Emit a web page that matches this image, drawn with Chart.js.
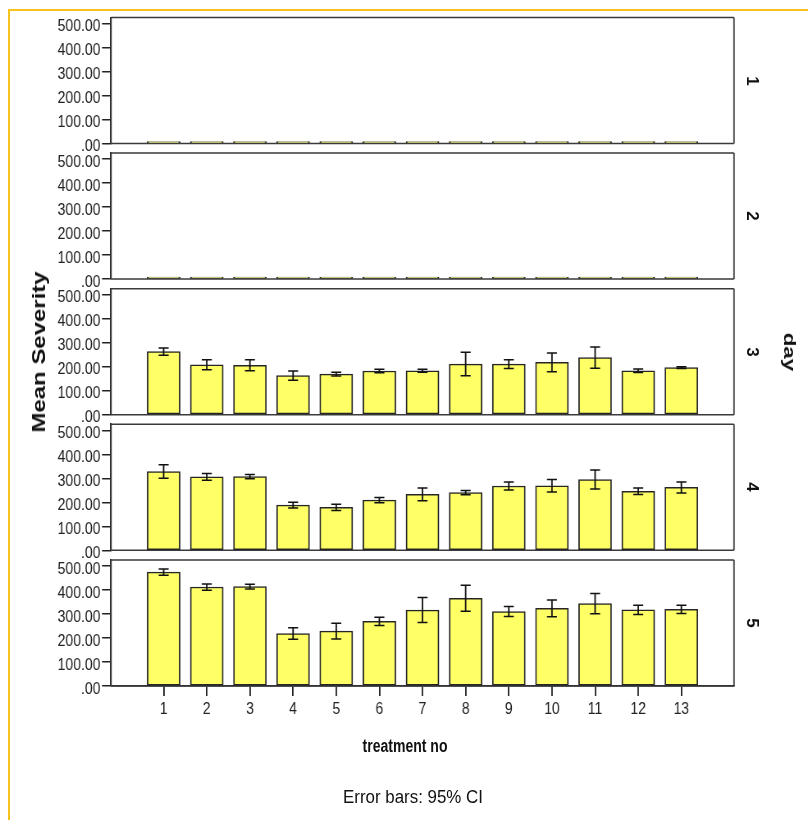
<!DOCTYPE html>
<html>
<head>
<meta charset="utf-8">
<script src="https://cdn.jsdelivr.net/npm/chart.js@4/dist/chart.umd.min.js"></script>
<style>
html,body{margin:0;padding:0;background:#fff;overflow:hidden;}
#wrap{position:relative;width:808px;height:820px;overflow:hidden;background:#fff;}
canvas.p{position:absolute;left:0;top:0;transform-origin:0 0;}
.frame{position:absolute;left:8px;top:9px;width:820px;height:830px;border-left:2px solid #f8c21c;border-top:2px solid #f8c21c;}
.t{position:absolute;white-space:nowrap;font-family:'Liberation Sans',Arial,sans-serif;color:#111;line-height:1;}
</style>
</head>
<body>
<div id="wrap">
  <div class="frame"></div>
</div>
<script>
// ---- data ----
const treatments = ['1','2','3','4','5','6','7','8','9','10','11','12','13'];
const dayLabels = ['1','2','3','4','5'];
const yTickValues = [0, 100, 200, 300, 400, 500];
const yTickLabels = ['.00', '100.00', '200.00', '300.00', '400.00', '500.00'];

const day1Mean = [0,0,0,0,0,0,0,0,0,0,0,0,0];
const day1CI   = [0,0,0,0,0,0,0,0,0,0,0,0,0];
const day2Mean = [0,0,0,0,0,0,0,0,0,0,0,0,0];
const day2CI   = [0,0,0,0,0,0,0,0,0,0,0,0,0];
const day3Mean = [263, 208, 206, 163, 169, 182, 183, 211, 211, 218, 238, 183, 196];
const day3CI   = [15, 21, 23, 19, 8, 7, 6, 49, 18, 39, 44, 7, 4];
const day4Mean = [328, 306, 307, 188, 179, 209, 233, 240, 268, 269, 295, 246, 262];
const day4CI   = [28, 14, 9, 12, 13, 11, 27, 9, 17, 26, 40, 14, 23];
const day5Mean = [474, 412, 414, 218, 228, 269, 316, 365, 310, 323, 343, 317, 319];
const day5CI   = [13, 13, 10, 24, 33, 17, 52, 54, 21, 35, 42, 19, 17];

const allMeans = [day1Mean, day2Mean, day3Mean, day4Mean, day5Mean];
const allCIs = [day1CI, day2CI, day3CI, day4CI, day5CI];

// ---- layout (canvas drawn wider, then squeezed horizontally like the reference) ----
const W = 808, H = 820;
const CW = 985;
const K = W / CW;
const PLOT_L = 111 / K, PLOT_R = 734 / K;
const TOP0 = 17.5, PITCH = 135.6, PH = 126;
const XH = 30;
const LW = 1.5, LWV = 1.5 / K;

Chart.defaults.font.family = "'Liberation Sans', Arial, sans-serif";
Chart.defaults.color = '#222';

const wrap = document.getElementById('wrap');

function makePanel(idx) {
  const means = allMeans[idx], cis = allCIs[idx];
  const showX = idx === 4;
  const T = TOP0 + idx * PITCH, B = T + PH;
  const cv = document.createElement('canvas');
  cv.className = 'p';
  cv.width = CW; cv.height = H;
  cv.style.width = CW + 'px'; cv.style.height = H + 'px';
  cv.style.transform = 'scaleX(' + K + ')';
  wrap.appendChild(cv);
  const xScale = {
    type: 'linear', display: showX, min: -0.22, max: 14.22, offset: false,
    afterBuildTicks: s => { s.ticks = treatments.map(t => ({value: Number(t)})); },
    ticks: {callback: (v, i) => treatments[i], font: {size: 17}, color: '#222', padding: 3, maxRotation: 0, minRotation: 0, autoSkip: false},
    grid: {offset: false, drawOnChartArea: false, drawTicks: true, tickLength: 10, tickColor: '#222', tickWidth: LWV, color: '#222', lineWidth: LWV},
    border: {display: true, color: '#222', width: LW}
  };
  if (showX) xScale.afterFit = s => { s.height = XH; s.paddingLeft = 0; s.paddingRight = 0; };
  new Chart(cv, {
    type: 'bar',
    data: {
      datasets: [{
        data: treatments.map((t, i) => ({x: Number(t), y: means[i]})),
        backgroundColor: '#ffff66',
        borderColor: '#262626',
        borderWidth: {top: LW, bottom: LW, left: LWV, right: LWV},
        borderSkipped: false,
        barThickness: 33 / K,
        minBarLength: 2
      }]
    },
    options: {
      responsive: false, animation: false, devicePixelRatio: 1,
      layout: {padding: {left: 0, right: CW - PLOT_R, top: T, bottom: showX ? H - B - XH : H - B}},
      plugins: {legend: {display: false}, tooltip: {enabled: false}},
      scales: {
        x: xScale,
        y: {
          min: 0, max: 525,
          afterBuildTicks: s => { s.ticks = yTickValues.map(v => ({value: v})); },
          ticks: {callback: (v, i) => yTickLabels[i], font: {size: 17}, color: '#222', padding: 2, labelOffset: 3},
          grid: {drawOnChartArea: false, drawTicks: true, tickLength: 9 / K, tickColor: '#222', tickWidth: LW, color: '#222', lineWidth: LW},
          border: {display: true, color: '#222', width: LWV},
          afterFit: s => { s.width = PLOT_L; s.paddingTop = 0; s.paddingBottom = 0; }
        }
      }
    },
    plugins: [{
      id: 'frame',
      beforeDatasetsDraw(chart) {
        const a = chart.chartArea, ctx = chart.ctx;
        ctx.save();
        ctx.strokeStyle = '#3a3a3a';
        ctx.lineWidth = LW;
        ctx.beginPath();
        ctx.moveTo(a.left, a.top); ctx.lineTo(a.right, a.top);
        ctx.moveTo(a.left, a.bottom); ctx.lineTo(a.right, a.bottom);
        ctx.stroke();
        ctx.lineWidth = LWV;
        ctx.beginPath();
        ctx.moveTo(a.left, a.top); ctx.lineTo(a.left, a.bottom);
        ctx.moveTo(a.right, a.top); ctx.lineTo(a.right, a.bottom);
        ctx.stroke();
        ctx.restore();
      }
    }, {
      id: 'errbars',
      afterDatasetsDraw(chart) {
        const ctx = chart.ctx, xs = chart.scales.x, ys = chart.scales.y;
        const cap = 5 / K;
        ctx.save();
        ctx.strokeStyle = '#111';
        means.forEach((m, i) => {
          const c = cis[i];
          if (!c) return;
          const x = xs.getPixelForValue(Number(treatments[i]));
          const y1 = ys.getPixelForValue(m + c), y2 = ys.getPixelForValue(m - c);
          ctx.lineWidth = LWV;
          ctx.beginPath();
          ctx.moveTo(x, y1); ctx.lineTo(x, y2);
          ctx.stroke();
          ctx.lineWidth = LW;
          ctx.beginPath();
          ctx.moveTo(x - cap, y1); ctx.lineTo(x + cap, y1);
          ctx.moveTo(x - cap, y2); ctx.lineTo(x + cap, y2);
          ctx.stroke();
        });
        ctx.restore();
      }
    }]
  });
}
for (let i = 0; i < 5; i++) makePanel(i);

// ---- text labels ----
function addText(txt, cx, cy, sizePx, bold, rot, targetLen) {
  const d = document.createElement('div');
  d.className = 't';
  d.textContent = txt;
  d.style.fontSize = sizePx + 'px';
  d.style.fontWeight = bold ? 'bold' : 'normal';
  d.style.left = cx + 'px';
  d.style.top = cy + 'px';
  wrap.appendChild(d);
  const w = d.offsetWidth;
  const k = targetLen ? targetLen / w : 1;
  d.style.transform = 'translate(-50%,-50%) rotate(' + rot + 'deg) scaleX(' + k + ')';
}
addText('Mean Severity', 38.5, 352, 18, true, -90, 161);
addText('day', 789, 352, 16, true, 90, 39);
dayLabels.forEach((lab, i) => addText(lab, 752, TOP0 + i * PITCH + PH / 2, 17, true, 90, null));
addText('treatment no', 405, 746, 18, true, 0, 85);
addText('Error bars: 95% CI', 413, 797, 18, false, 0, 140);
</script>
</body>
</html>
